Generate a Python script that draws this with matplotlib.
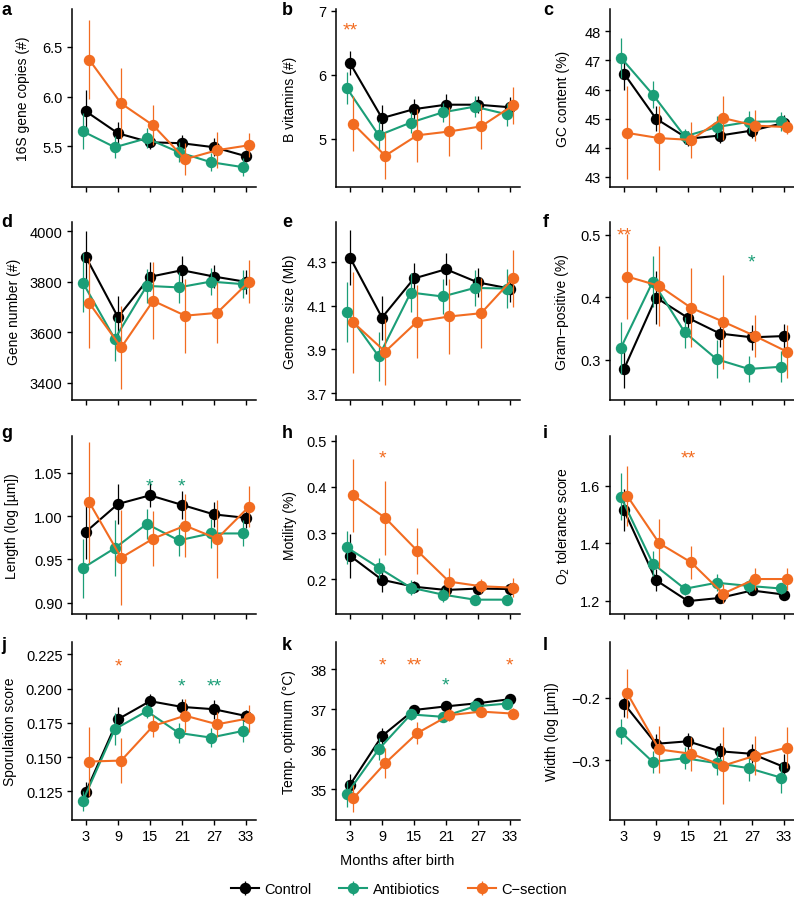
import numpy as np
import matplotlib.pyplot as plt
from matplotlib.ticker import FuncFormatter

plt.rcParams['font.family'] = ['Liberation Sans', 'DejaVu Sans']

months = [3, 9, 15, 21, 27, 33]
groups = ['Control', 'Antibiotics', 'C\u2212section']
colors = ['black', '#1b9e77', '#f26c21']
dodge = [0.0, -0.6, 0.6]

# rows: control, antibiotics, C-section ; stars: (month, group, text, y)
copies_mean = [[5.85, 5.63, 5.54, 5.53, 5.49, 5.40],
               [5.65, 5.49, 5.58, 5.44, 5.34, 5.29],
               [6.37, 5.93, 5.71, 5.37, 5.46, 5.51]]
copies_err = [[0.22, 0.11, 0.07, 0.08, 0.09, 0.06],
              [0.18, 0.11, 0.10, 0.10, 0.09, 0.09],
              [0.40, 0.36, 0.20, 0.16, 0.18, 0.12]]
copies_stars = []

bvit_mean = [[6.18, 5.32, 5.46, 5.53, 5.53, 5.49],
             [5.79, 5.05, 5.25, 5.41, 5.50, 5.38],
             [5.23, 4.73, 5.05, 5.11, 5.19, 5.52]]
bvit_err = [[0.19, 0.21, 0.16, 0.16, 0.13, 0.16],
            [0.25, 0.22, 0.17, 0.15, 0.16, 0.18],
            [0.43, 0.37, 0.42, 0.39, 0.35, 0.29]]
bvit_stars = [(3, 2, '**', 6.81)]

gc_mean = [[46.55, 45.00, 44.31, 44.42, 44.59, 44.85],
           [47.10, 45.83, 44.39, 44.71, 44.89, 44.91],
           [44.51, 44.33, 44.27, 45.02, 44.76, 44.71]]
gc_err = [[0.58, 0.42, 0.26, 0.26, 0.26, 0.29],
          [0.69, 0.46, 0.26, 0.38, 0.38, 0.32],
          [1.60, 1.10, 0.62, 0.75, 0.54, 0.23]]
gc_stars = []

genes_mean = [[3898, 3660, 3820, 3846, 3821, 3800],
              [3797, 3574, 3784, 3778, 3801, 3791],
              [3716, 3540, 3725, 3666, 3677, 3801]]
genes_err = [[105, 85, 57, 55, 45, 47],
             [116, 88, 68, 61, 55, 56],
             [180, 165, 153, 147, 121, 85]]
genes_stars = []

gsize_mean = [[4.318, 4.045, 4.223, 4.265, 4.205, 4.177],
              [4.071, 3.868, 4.159, 4.141, 4.180, 4.177],
              [4.023, 3.890, 4.027, 4.050, 4.065, 4.223]]
gsize_err = [[0.125, 0.100, 0.072, 0.073, 0.065, 0.060],
             [0.136, 0.110, 0.087, 0.080, 0.083, 0.087],
             [0.230, 0.150, 0.167, 0.172, 0.160, 0.130]]
gsize_stars = []

gram_mean = [[0.2855, 0.3995, 0.367, 0.342, 0.336, 0.338],
             [0.319, 0.425, 0.344, 0.301, 0.2855, 0.289],
             [0.433, 0.418, 0.383, 0.361, 0.338, 0.313]]
gram_err = [[0.031, 0.042, 0.020, 0.022, 0.020, 0.020],
            [0.042, 0.040, 0.025, 0.030, 0.020, 0.025],
            [0.068, 0.064, 0.063, 0.075, 0.034, 0.042]]
gram_stars = [(3, 2, '**', 0.510), (27, 1, '*', 0.468)]

length_mean = [[0.982, 1.014, 1.024, 1.013, 1.002, 0.998],
               [0.940, 0.963, 0.991, 0.972, 0.980, 0.980],
               [1.016, 0.952, 0.974, 0.989, 0.974, 1.011]]
length_err = [[0.031, 0.023, 0.014, 0.016, 0.014, 0.012],
              [0.034, 0.032, 0.017, 0.018, 0.017, 0.015],
              [0.070, 0.055, 0.032, 0.036, 0.045, 0.024]]
length_stars = [(15, 1, '*', 1.043), (21, 1, '*', 1.043)]

motil_mean = [[0.251, 0.199, 0.184, 0.177, 0.180, 0.179],
              [0.269, 0.225, 0.182, 0.167, 0.156, 0.156],
              [0.382, 0.333, 0.262, 0.195, 0.185, 0.182]]
motil_err = [[0.048, 0.026, 0.013, 0.013, 0.013, 0.014],
             [0.035, 0.022, 0.016, 0.015, 0.011, 0.011],
             [0.079, 0.080, 0.050, 0.030, 0.015, 0.020]]
motil_stars = [(9, 2, '*', 0.477)]

o2_mean = [[1.515, 1.271, 1.198, 1.209, 1.235, 1.221],
           [1.562, 1.329, 1.241, 1.262, 1.251, 1.242],
           [1.565, 1.400, 1.333, 1.224, 1.275, 1.275]]
o2_err = [[0.074, 0.038, 0.010, 0.014, 0.016, 0.014],
          [0.082, 0.044, 0.020, 0.030, 0.023, 0.020],
          [0.106, 0.086, 0.057, 0.032, 0.039, 0.040]]
o2_stars = [(15, 2, '**', 1.721)]

spor_mean = [[0.1248, 0.1776, 0.1908, 0.1866, 0.1849, 0.1800],
             [0.1179, 0.1703, 0.1835, 0.1676, 0.1642, 0.1690],
             [0.1467, 0.1474, 0.1727, 0.1802, 0.1739, 0.1783]]
spor_err = [[0.0073, 0.0090, 0.0055, 0.0060, 0.0070, 0.0040],
            [0.0070, 0.0115, 0.0050, 0.0075, 0.0067, 0.0080],
            [0.0255, 0.0165, 0.0080, 0.0120, 0.0090, 0.0100]]
spor_stars = [(9, 2, '*', 0.2216), (21, 1, '*', 0.2066), (27, 1, '**', 0.2066)]

temp_mean = [[35.11, 36.33, 36.98, 37.07, 37.15, 37.25],
             [34.88, 36.00, 36.87, 36.81, 37.07, 37.14],
             [34.77, 35.65, 36.40, 36.85, 36.94, 36.89]]
temp_err = [[0.27, 0.19, 0.10, 0.10, 0.08, 0.08],
            [0.33, 0.27, 0.13, 0.10, 0.10, 0.08],
            [0.34, 0.37, 0.28, 0.15, 0.11, 0.14]]
temp_stars = [(9, 2, '*', 38.29), (15, 2, '**', 38.29), (21, 1, '*', 37.78), (33, 2, '*', 38.29)]

width_mean = [[-0.2097, -0.274, -0.270, -0.286, -0.290, -0.311],
              [-0.255, -0.303, -0.297, -0.305, -0.313, -0.328],
              [-0.193, -0.283, -0.290, -0.309, -0.293, -0.280]]
width_err = [[0.022, 0.015, 0.014, 0.013, 0.015, 0.021],
             [0.020, 0.018, 0.018, 0.019, 0.020, 0.024],
             [0.039, 0.038, 0.027, 0.062, 0.031, 0.033]]
width_stars = []

panels = [
    ('a', '16S gene copies (#)', copies_mean, copies_err, copies_stars, (5.09, 6.88), [5.5, 6.0, 6.5], '{:.1f}'),
    ('b', 'B vitamins (#)', bvit_mean, bvit_err, bvit_stars, (4.24, 7.03), [5, 6, 7], '{:.0f}'),
    ('c', 'GC content (%)', gc_mean, gc_err, gc_stars, (42.65, 48.77), [43, 44, 45, 46, 47, 48], '{:.0f}'),
    ('d', 'Gene number (#)', genes_mean, genes_err, genes_stars, (3332, 4037), [3400, 3600, 3800, 4000], '{:.0f}'),
    ('e', 'Genome size (Mb)', gsize_mean, gsize_err, gsize_stars, (3.67, 4.48), [3.7, 3.9, 4.1, 4.3], '{:.1f}'),
    ('f', 'Gram\u2212positive (%)', gram_mean, gram_err, gram_stars, (0.236, 0.52), [0.3, 0.4, 0.5], '{:.1f}'),
    ('g', 'Length (log [\u00b5m])', length_mean, length_err, length_stars, (0.887, 1.0925), [0.90, 0.95, 1.00, 1.05], '{:.2f}'),
    ('h', 'Motility (%)', motil_mean, motil_err, motil_stars, (0.125, 0.51), [0.2, 0.3, 0.4, 0.5], '{:.1f}'),
    ('i', 'O$_2$ tolerance score', o2_mean, o2_err, o2_stars, (1.153, 1.774), [1.2, 1.4, 1.6], '{:.1f}'),
    ('j', 'Sporulation score', spor_mean, spor_err, spor_stars, (0.104, 0.234), [0.125, 0.150, 0.175, 0.200, 0.225], '{:.3f}'),
    ('k', 'Temp. optimum (\u00b0C)', temp_mean, temp_err, temp_stars, (34.23, 38.68), [35, 36, 37, 38], '{:.0f}'),
    ('l', 'Width (log [\u00b5m])', width_mean, width_err, width_stars, (-0.396, -0.111), [-0.3, -0.2], '{:.1f}'),
]

W, H = 794, 903
fig = plt.figure(figsize=(W / 100, H / 100), dpi=100)

col_left = [72, 336, 610]
row_top = [10, 223, 437, 643]
ax_w, ax_h = 184, 178
ylab_x = [23, 290, 563, 14, 290, 562, 12, 290, 563, 10, 289, 552]
letter_x = [1, 282, 543]
letter_base = [15, 227, 438, 650]

axes = []
for n, (letter, ylabel, mean, err, stars, ylim, yticks, fmt) in enumerate(panels):
    r, c = divmod(n, 3)
    left, top = col_left[c], row_top[r]
    ax = fig.add_axes([left / W, 1 - (top + ax_h) / H, ax_w / W, ax_h / H])
    axes.append(ax)

    for g in range(3):
        xs = np.array(months) + dodge[g]
        ax.errorbar(xs, mean[g], yerr=err[g], fmt='-o', color=colors[g],
                    lw=1.5, elinewidth=0.9, ms=7.2, capsize=0, label=groups[g],
                    zorder=2 + g)

    for m, g, txt, y in stars:
        ax.annotate(txt, (m, y), xytext=(0, -5), textcoords='offset points',
                    ha='center', va='center', color=colors[g], fontsize=14)

    ax.set_xlim(0.37, 34.9)
    ax.set_ylim(*ylim)
    ax.set_xticks(months)
    ax.set_yticks(yticks)
    ax.yaxis.set_major_formatter(FuncFormatter(lambda v, p, f=fmt: f.format(v).replace('-', '\u2212')))
    ax.spines['top'].set_visible(False)
    ax.spines['right'].set_visible(False)
    for s in ('left', 'bottom'):
        ax.spines[s].set_linewidth(1.1)
    ax.tick_params(length=3.8, width=1.0, labelsize=10.5, pad=3, colors='black')
    if r < 3:
        ax.tick_params(axis='x', labelbottom=False)

    ax.set_ylabel(ylabel, fontsize=10, va='center')
    ax.yaxis.set_label_coords((ylab_x[n] - left) / ax_w, 0.5)

    fig.text(letter_x[c] / W, 1 - letter_base[r] / H, letter, fontsize=13,
             fontweight='bold', va='baseline', ha='left')

axk = axes[10]
axk.set_xlabel('Months after birth', fontsize=10.5, va='center')
axk.xaxis.set_label_coords((397 - col_left[1]) / ax_w, (822 - 862) / ax_h)

handles, labels = axes[0].get_legend_handles_labels()
fig.legend(handles, labels, loc='center', bbox_to_anchor=(399 / W, 1 - 890 / H),
           ncol=3, frameon=False, fontsize=10.5, handlelength=1.9,
           handletextpad=0.4, columnspacing=1.9)

fig.savefig('out.png', dpi=100)
